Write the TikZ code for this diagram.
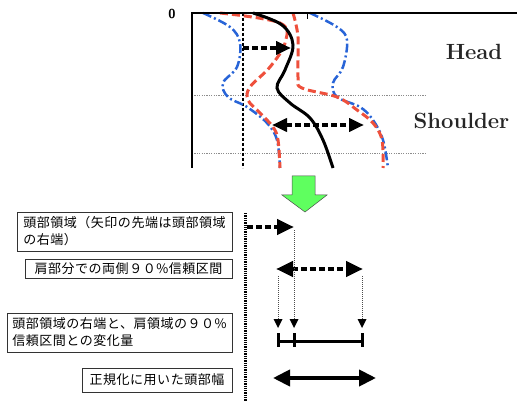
\documentclass[tikz,border=0pt]{standalone}
\usepackage{fontspec}
\newfontfamily\jpfont[LetterSpace=4]{Noto Sans CJK JP}
\usetikzlibrary{arrows.meta}
\definecolor{redc}{RGB}{238,80,60}
\definecolor{bluec}{RGB}{40,100,215}
\definecolor{greenc}{RGB}{95,255,95}
\tikzset{
  txtbox/.style={draw=black!80, line width=0.8pt, inner sep=0pt, font=\jpfont\fontsize{13}{17}\selectfont, align=left},
  thickdots/.style={line width=4.5pt, dash pattern=on 6pt off 3pt},
  bigtip/.style={-{Triangle[length=17pt,width=15pt]}},
  plottip/.style={-{Triangle[length=15pt,width=13pt]}},
  guide/.style={black!70, line width=0.5pt, dash pattern=on 1pt off 1pt},
  redcurve/.style={redc, line width=3pt, dash pattern=on 8pt off 4pt},
  bluecurve/.style={bluec, line width=2.5pt, dash pattern=on 9pt off 3pt on 2pt off 3pt},
  plotlabel/.style={font=\bfseries\fontsize{22}{22}\selectfont, text=black!85},
}
\begin{document}
\begin{tikzpicture}[x=1pt,y=-1pt]
\useasboundingbox (0,0) rectangle (517,401);
% ---------- top plot ----------
\draw[black!45, line width=0.6pt, dash pattern=on 1.2pt off 1.2pt] (192,95) -- (425,95);
\draw[black!45, line width=0.6pt, dash pattern=on 1.2pt off 1.2pt] (192,153) -- (425,153);
\draw[black, line width=2pt, dash pattern=on 3pt off 2pt] (243,13) -- (243,168);
% blue dash-dot curves
\draw[bluecurve] plot[smooth, tension=0.6] coordinates {(203,13) (230,27) (240,43) (237,67) (223,83) (228,97) (247,107) (267,123) (277,140) (280,168)};
\draw[bluecurve] plot[smooth, tension=0.6] coordinates {(310,13) (337,27) (347,40) (343,67) (333,83) (337,97) (360,107) (373,120) (383,140) (388,168)};
% red dashed curves
\draw[redcurve] plot[smooth, tension=0.6] coordinates {(220,13) (280,23) (285,43) (270,67) (250,87) (248,100) (260,113) (273,127) (278,140) (280,168)};
\draw[redcurve] plot[smooth, tension=0.6] coordinates {(293,13) (298,37) (298,77) (302,88) (337,97) (357,110) (373,123) (382,140) (383,168)};
% black curve
\draw[black, line width=3pt] plot[smooth, tension=0.6] coordinates {(253,13) (282,25) (293,45) (285,70) (277,88) (290,103) (310,118) (323,140) (333,168)};
% frame
\draw[black, line width=2pt] (192,168) -- (192,13) -- (517,13);
\draw[black, line width=1pt] (307,13) -- (307,19);
\node[font=\sffamily\bfseries\fontsize{13}{13}\selectfont] (zero) at (172,14) {0};
\node[plotlabel] (head) at (474,52) {Head};
\node[plotlabel] (shoulder) at (461.5,121) {Shoulder};
% plot arrows
\coordinate (ha) at (243,48);
\coordinate (hb) at (291,48);
\draw[thickdots, plottip] (ha) -- (hb);
\coordinate (sa) at (272,125);
\coordinate (sb) at (364,125);
\draw[thickdots, {Triangle[length=15pt,width=13pt]}-{Triangle[length=15pt,width=13pt]}] (sa) -- (sb);
% ---------- green arrow ----------
\filldraw[fill=greenc, draw=black!70, line width=0.5pt] (292,176) -- (315,176) -- (315,195) -- (327,195) -- (305,212) -- (282,195) -- (292,195) -- cycle;
% ---------- bottom part ----------
\coordinate (vt) at (245,213);
\coordinate (vb) at (245,401);
\draw[black, line width=3pt, dash pattern=on 1.3pt off 1pt] (vt) -- (vb);
% boxes
\node[txtbox, minimum width=215pt, minimum height=39pt] (b1) at (124.5,231.5) {頭部領域（矢印の先端は頭部領域\\の右端）};
\node[txtbox, minimum width=207pt, minimum height=19pt, align=center] (b2) at (128.5,268.5) {肩部分での両側９０\%信頼区間};
\node[txtbox, minimum width=225pt, minimum height=39pt] (b3) at (119.5,332.5) {頭部領域の右端と、肩領域の９０\%\\信頼区間との変化量};
\node[txtbox, minimum width=150pt, minimum height=24pt] (b4) at (157,380) {正規化に用いた頭部幅};
% arrow 1
\coordinate (a1s) at (247,227);
\coordinate (a1e) at (294,227);
\draw[thickdots, bigtip] (a1s) -- (a1e);
% arrow 2
\coordinate (a2s) at (276,269);
\coordinate (a2e) at (363,269);
\draw[thickdots, {Triangle[length=17pt,width=15pt]}-{Triangle[length=17pt,width=15pt]}] (a2s) -- (a2e);
% guides
\coordinate (g1t) at (294,230);
\coordinate (g2t) at (278,276);
\coordinate (g3t) at (362,276);
\draw[guide] (g1t) -- (294,320);
\draw[guide] (g2t) -- (278,320);
\draw[guide] (g3t) -- (362,320);
\foreach \x in {278,294,362} {
  \fill[black] (\x-4.5,319) -- (\x+4.5,319) -- (\x,328) -- cycle;
}
% bracket
\coordinate (k1) at (278,341);
\coordinate (k2) at (362,341);
\draw[black, line width=3pt] (k1) -- (k2);
\foreach \x in {278,294,362} {
  \draw[black, line width=3pt] (\x,333) -- (\x,347);
}
% arrow 4
\coordinate (a4s) at (273,378);
\coordinate (a4e) at (376,378);
\draw[black, line width=4pt, {Triangle[length=17pt,width=16pt]}-{Triangle[length=17pt,width=16pt]}] (a4s) -- (a4e);
\end{tikzpicture}
\end{document}
